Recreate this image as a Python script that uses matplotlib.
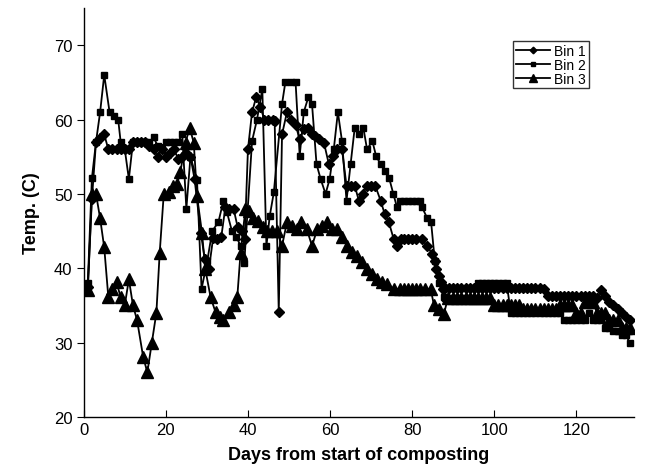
import matplotlib
matplotlib.use("Agg")
import matplotlib.pyplot as plt

plt.rcParams['font.family'] = ['Liberation Sans', 'DejaVu Sans']

# ---- Bin 1 (diamonds) ----
bin1_days = [1, 2, 3, 4, 5, 6, 7, 8, 9, 10, 11, 12, 13, 14, 15, 16, 17, 18, 19, 20,
             21, 22, 23, 24, 25, 26, 27, 28.5, 29.5, 30.5, 31.5, 32.5, 33.5, 34.5, 35.5,
             36.5, 37.5, 38.5, 39.2, 40, 41, 42, 43, 44, 45, 46, 46.5, 47.5, 48.3, 49.5,
             50.6, 51.6, 52.6, 53.6, 54.7, 55.6, 56.4, 57.2, 58.5, 59.7, 60.8, 61.7, 62.9,
             64, 65, 66, 67, 68, 69, 70, 71, 72.3, 73.3, 74.3, 75.5, 76.3, 77.2, 78, 79,
             80, 81, 82.4, 83.6, 84.9, 85.5, 85.9, 86.5, 86.9, 87.5,
             88, 89, 90, 91, 92, 93, 94, 95, 96, 97, 98, 99, 100, 101, 102, 103, 104,
             105, 106, 107, 108, 109, 110, 111, 112, 113, 114, 115, 116, 117, 118, 119,
             120, 121, 122, 123, 124, 125, 126, 127, 128, 129, 130, 131, 132, 133]
bin1_temp = [37.5, 49.3, 57, 57.5, 58, 56, 56, 56, 56, 56, 56, 57, 57, 57, 57, 56.5, 56, 55, 56, 55,
             55.5, 56, 54.7, 55, 55.5, 55, 52, 44.8, 41.2, 39.9, 44, 43.9, 44.2, 48.2, 48,
             48, 45.5, 45, 43.9, 56, 61, 63, 61.7, 60, 60, 60, 59.8, 34.1, 58, 61,
             60, 59.2, 57.4, 58.7, 58.9, 58, 57.8, 57.4, 56.9, 54, 55.1, 56, 56,
             51.1, 51.1, 51.1, 49.1, 50, 51.1, 51.1, 51.1, 49.1, 47.3, 46.2, 43.9, 43, 43.9, 43.9, 43.9,
             43.9, 43.9, 43.9, 43, 41.9, 41, 39.9, 39, 38.1, 37.2,
             37.3, 37.3, 37.3, 37.3, 37.3, 37.3, 37.3, 37.3, 37.3, 37.3, 37.3, 37.3, 37.3, 37.3, 37.3, 37.3, 37.3,
             37.3, 37.3, 37.3, 37.3, 37.3, 37.3, 37.3, 37.2, 36.3, 36.3, 36.3, 36.3, 36.3, 36.3, 36.3,
             36.3, 36.3, 36.3, 36.3, 36.3, 36, 37, 36.3, 35.5, 35, 34.5, 34, 33.5, 33]

# ---- Bin 2 (squares) ----
bin2_days = [1, 2, 3, 4, 5, 6.3, 7.3, 8.4, 9, 10, 11, 12, 13, 14, 15, 16, 17, 18, 19, 20,
             21, 22, 23, 24, 25, 26, 27.6, 28.7, 30.1, 31.3, 32.8, 34, 34.9, 36.1, 37.2,
             38.2, 39.1, 41, 42.2, 43.5, 44.5, 45.3, 46.3, 48.3, 49.1, 50.4, 51.6, 52.6,
             53.6, 54.7, 55.6, 56.7, 57.7, 58.9, 59.9, 60.9, 61.9, 62.9, 64, 65, 66, 67,
             68.1, 69, 70.3, 71.2, 72.3, 73.3, 74.4, 75.4, 76.3, 77.1, 78, 79, 80, 81, 82,
             82.4, 83.6, 84.6, 85.5, 86.5, 87.7,
             88, 89, 90, 91, 92, 93, 94, 95, 96, 97, 98, 99, 100, 101, 102, 103, 104,
             105, 106, 107, 108, 109, 110, 111, 112, 113, 114, 115, 116, 117, 118, 119,
             120, 121, 122, 123, 124, 125, 126, 127, 128, 129, 130, 131, 132, 133]
bin2_temp = [38, 52.1, 57, 61, 66, 61, 60.5, 60, 57, 56, 52, 57, 57, 57, 57, 57, 57.6, 56.5, 56, 57,
             57, 57, 57, 58, 48, 55, 51.8, 37.2, 41, 45, 46.2, 49, 47.5, 45, 44.2,
             43, 40.7, 57.1, 60, 64.1, 43, 47, 50.2, 62.1, 65, 65, 65, 55.1,
             61, 63, 62.1, 54, 52, 50, 52, 56, 61, 57.1, 49.1, 54, 58.9, 58,
             58.9, 56, 57.1, 55.1, 54, 53.1, 52.1, 50, 48.2, 49.1, 49.1, 49.1, 49.1, 49.1, 49.1,
             48.2, 46.8, 46.2, 41, 38, 36.1,
             36, 36, 36, 36, 36, 36, 36, 36, 38, 38, 38, 38, 38, 38, 38, 38, 34,
             34, 34, 34, 34, 34, 34, 34, 34, 34, 34, 34, 34, 33, 33, 33,
             33, 33, 33, 34, 33, 33, 33, 32, 32, 31.5, 31.5, 31, 31, 30]

# ---- Bin 3 (triangles) ----
bin3_days = [1, 2, 3, 4, 5, 6, 7, 8, 9, 10, 11, 12, 13, 14.5, 15.5, 16.6, 17.7, 18.5,
             19.5, 20.7, 21.8, 22.75, 23.55, 24.8, 25.8, 26.8, 27.6, 28.8, 29.6, 30.9,
             32.1, 33.2, 34, 35.3, 36.5, 37.4, 38.2, 39.4, 40.2, 41.2, 42.4, 43.6, 44.7,
             45.9, 47, 48.3, 49.5, 50.8, 52, 53, 54.3, 55.6, 56.9, 58.1, 59.3, 60.5, 61.7,
             62.9, 64.2, 65.4, 66.6, 67.8, 69, 70.3, 71.5, 72.7, 73.9, 75.5, 77, 78, 79,
             80, 81, 82, 83, 84.5, 85.3, 86.5, 87.7,
             88.7, 90, 91, 92, 93, 94, 95, 96, 97, 98, 99, 100, 101, 102, 103, 104,
             105, 106, 107, 108, 109, 110, 111, 112, 113, 114, 115, 116, 117, 118, 119,
             120, 121, 122, 123, 124, 125, 126, 127, 128, 129, 130, 131, 132, 133]
bin3_temp = [37, 50, 50, 46.7, 42.8, 36.1, 37.2, 38.1, 36.1, 35, 38.5, 35, 33, 28, 26, 30, 34, 42,
             50, 50.2, 51, 51.3, 53, 56.9, 58.9, 56.9, 49.7, 44.8, 39.9, 36.1,
             34.1, 33.5, 33, 34.1, 35, 36.1, 42.1, 48, 47.7, 46.8, 46.3, 45.5, 45,
             45, 45, 43, 46.2, 45.7, 45.3, 46.2, 45.3, 43, 45.3, 45.7, 46.2, 45.3, 45.3,
             44.2, 43, 42.2, 41.7, 40.8, 39.9, 39.2, 38.5, 38.2, 37.9, 37.2, 37.2, 37.2, 37.2,
             37.2, 37.2, 37.2, 37.2, 37.2, 35, 34.5, 33.8,
             36, 36, 36, 36, 36, 36, 36, 36, 36, 36, 36, 35, 35, 35, 35, 35,
             35, 35, 34.5, 34.5, 34.5, 34.5, 34.5, 34.5, 34.5, 34.5, 34.5, 35, 35, 35, 35,
             34, 34, 35.5, 35.5, 35.5, 34, 34, 34, 33, 33, 33, 32, 32, 32]

series_labels = ["Bin 1", "Bin 2", "Bin 3"]
x_ticks = [0, 20, 40, 60, 80, 100, 120]
y_ticks = [20, 30, 40, 50, 60, 70]

fig = plt.figure(figsize=(6.59, 4.77), dpi=100)
ax = fig.add_axes([0.127, 0.124, 0.835, 0.857])

ax.plot(bin1_days, bin1_temp, color='black', lw=1.3, marker='D', ms=4.8,
        mfc='black', mec='black', label=series_labels[0])
ax.plot(bin2_days, bin2_temp, color='black', lw=1.3, marker='s', ms=4.3,
        mfc='black', mec='black', label=series_labels[1])
ax.plot(bin3_days, bin3_temp, color='black', lw=1.3, marker='^', ms=8.5,
        mfc='black', mec='black', label=series_labels[2])

ax.set_xlim(0, 134)
ax.set_ylim(20, 75)
ax.set_xticks(x_ticks)
ax.set_yticks(y_ticks)
for s in ['top', 'right']:
    ax.spines[s].set_visible(False)
for s in ['left', 'bottom']:
    ax.spines[s].set_linewidth(1.0)
ax.tick_params(axis='x', direction='in', length=5, labelsize=12, pad=4)
ax.tick_params(axis='y', direction='out', length=5, labelsize=12, pad=3)

ax.set_xlabel("Days from start of composting", fontsize=13, fontweight='bold', labelpad=6)
ax.set_ylabel("Temp. (C)", fontsize=13, fontweight='bold', labelpad=10)

leg = ax.legend(loc='upper left', bbox_to_anchor=(0.78, 0.92), fontsize=10,
                frameon=True, fancybox=False, edgecolor='black', borderpad=0.2,
                handlelength=2.5, handletextpad=0.25, labelspacing=0.0, markerscale=0.7,
                borderaxespad=0)
leg.get_frame().set_linewidth(1.0)

fig.savefig("out.png", dpi=100)
